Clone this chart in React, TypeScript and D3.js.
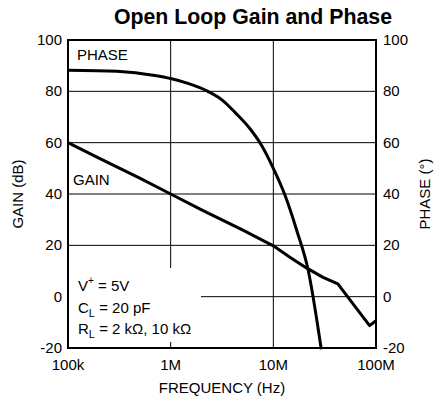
import React from "react";
import * as d3 from "d3";

const gainFreq = [1e5, 2e5, 5e5, 1e6, 2e6, 5e6, 1e7, 1.45e7, 2.1e7, 3.05e7, 4.25e7, 6e7, 8.66e7, 1e8];
const gainDb = [60, 54, 46.2, 40, 33.8, 26, 19.8, 15.4, 11.2, 7.5, 5, -2.9, -11.3, -9.4];
const phaseFreq = [1e5, 3e5, 7e5, 1e6, 1.5e6, 2.3e6, 3.2e6, 4.3e6, 5.9e6, 7.67e6, 1e7, 1.3e7, 1.7e7, 2.18e7, 2.93e7];
const phaseDeg = [88.2, 87.8, 86.2, 85, 83, 80, 76.5, 71.5, 65.5, 59, 50, 39.5, 25.5, 10.5, -20.5];
const xTicks = [1e5, 1e6, 1e7, 1e8];
const xTickLabels = ["100k", "1M", "10M", "100M"];
const yTicks = [-20, 0, 20, 40, 60, 80, 100];

const W = 434, H = 400;
const L = 68, R = 376, T = 40, B = 348;
const FONT = "'Liberation Sans', Arial, Helvetica, sans-serif";

export default function App() {
  const x = d3.scaleLog().domain([1e5, 1e8]).range([L, R]);
  const y = d3.scaleLinear().domain([-20, 100]).range([B, T]);
  const gainLine = d3.line<number>().x((_, i) => x(gainFreq[i])).y((d) => y(d)).curve(d3.curveLinear);
  const phaseLine = d3.line<number>().x((_, i) => x(phaseFreq[i])).y((d) => y(d)).curve(d3.curveMonotoneX);
  return (
    <svg width={W} height={H} style={{ position: "absolute", left: 0, top: 0, background: "#fff" }} fontFamily={FONT}>
      <rect x={0} y={0} width={W} height={H} fill="#fff" />
      <text x={253} y={24} textAnchor="middle" fontSize={21.3} fontWeight="bold">Open Loop Gain and Phase</text>
      {yTicks.map((t) => (
        <line key={"h" + t} x1={L} x2={R} y1={y(t)} y2={y(t)} stroke="#000" strokeWidth={1} />
      ))}
      {xTicks.map((t) => (
        <line key={"v" + t} x1={x(t)} x2={x(t)} y1={T} y2={B} stroke="#000" strokeWidth={1} />
      ))}
      <rect x={69} y={268} width={132} height={74} fill="#fff" />
      <path d={phaseLine(phaseDeg) || ""} fill="none" stroke="#000" strokeWidth={3} strokeLinejoin="round" />
      <path d={gainLine(gainDb) || ""} fill="none" stroke="#000" strokeWidth={3} strokeLinejoin="round" />
      <rect x={L} y={T} width={R - L} height={B - T} fill="none" stroke="#000" strokeWidth={2} />
      {yTicks.map((t) => (
        <text key={"l" + t} x={62} y={y(t) + 5} textAnchor="end" fontSize={15}>{t}</text>
      ))}
      {yTicks.map((t) => (
        <text key={"r" + t} x={383} y={y(t) + 5} textAnchor="start" fontSize={15}>{t}</text>
      ))}
      {xTicks.map((t, i) => (
        <text key={"x" + t} x={x(t)} y={370} textAnchor="middle" fontSize={15}>{xTickLabels[i]}</text>
      ))}
      <text x={222} y={393} textAnchor="middle" fontSize={15}>FREQUENCY (Hz)</text>
      <text transform={`translate(23,${(T + B) / 2}) rotate(-90)`} textAnchor="middle" fontSize={15}>GAIN (dB)</text>
      <text transform={`translate(430,${(T + B) / 2}) rotate(-90)`} textAnchor="middle" fontSize={15}>PHASE (°)</text>
      <text x={77} y={60} fontSize={15}>PHASE</text>
      <text x={73} y={185} fontSize={15}>GAIN</text>
      <text x={78} y={291} fontSize={15}>V<tspan dy={-7} fontSize={10}>+</tspan><tspan dy={7}> = 5V</tspan></text>
      <text x={78} y={313} fontSize={15}>C<tspan dy={4} fontSize={11}>L</tspan><tspan dy={-4}> = 20 pF</tspan></text>
      <text x={78} y={334} fontSize={15}>R<tspan dy={4} fontSize={11}>L</tspan><tspan dy={-4}> = 2 kΩ, 10 kΩ</tspan></text>
    </svg>
  );
}
